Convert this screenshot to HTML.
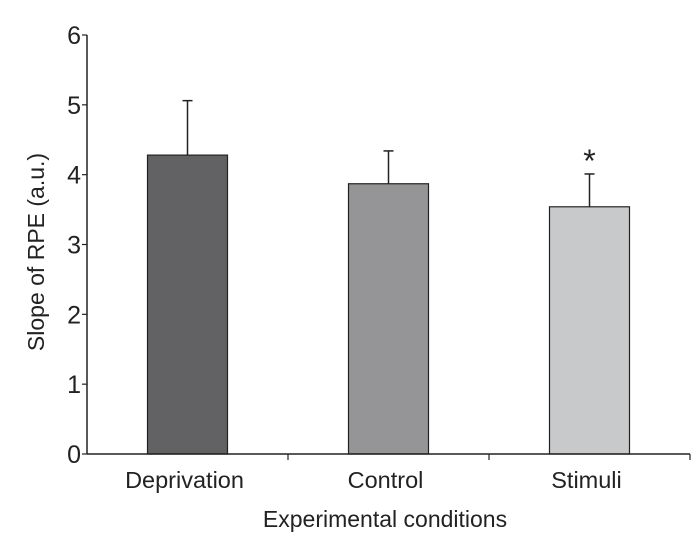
<!DOCTYPE html>
<html><head><meta charset="utf-8"><style>
html,body{margin:0;padding:0;background:#fff}
svg text{font-family:"Liberation Sans",Arial,sans-serif;fill:#222}
</style></head><body>
<svg width="700" height="548" viewBox="0 0 700 548">
<g id="plot"></g>
</svg>
<script>
const categories=["Deprivation","Control","Stimuli"];
const values=[4.28,3.87,3.54];
const errors=[0.78,0.47,0.47];
const colors=["#626264","#959597","#c8c9cb"];
const yTicks=[0,1,2,3,4,5,6];
const significant=[false,false,true];
const X0=87,X1=690,Y0=454,Y1=35,YMAX=6;
const bw=(X1-X0)/categories.length;
const y=v=>Y0-(v/YMAX)*(Y0-Y1);
const xc=i=>X0+bw*(i+0.5);
const g=document.getElementById('plot');
const NS="http://www.w3.org/2000/svg";
function mk(t,a,p){const e=document.createElementNS(NS,t);for(const k in a)e.setAttribute(k,a[k]);(p||g).appendChild(e);return e;}
categories.forEach((c,i)=>{
 const bx=xc(i)-40;
 const bar=mk('rect',{x:bx,y:y(values[i]),width:80,height:Y0-y(values[i]),fill:colors[i],stroke:'#222','stroke-width':1.2});
 
 
 const eb=mk('line',{x1:xc(i),x2:xc(i),y1:y(values[i]),y2:y(values[i]+errors[i]),stroke:'#222','stroke-width':1.5});
 
 
 mk('line',{x1:xc(i)-5,x2:xc(i)+5,y1:y(values[i]+errors[i]),y2:y(values[i]+errors[i]),stroke:'#222','stroke-width':1.5});
 const t=mk('text',{x:xc(i)-3,y:488,'font-size':23.5,'text-anchor':'middle'});t.textContent=c;
 
 
 mk('line',{x1:X0+bw*(i+1),x2:X0+bw*(i+1),y1:Y0,y2:Y0+6,stroke:'#222','stroke-width':1.2});
 if(significant[i]){const s=mk('text',{x:xc(i),y:y(values[i]+errors[i])-2,'font-size':32,'text-anchor':'middle'});s.textContent='*';
  
  }
});
yTicks.forEach(v=>{
 mk('line',{x1:X0-5,x2:X0,y1:y(v),y2:y(v),stroke:'#222','stroke-width':1.2});
 const t=mk('text',{x:X0-6,y:y(v)+9,'font-size':25,'text-anchor':'end'});t.textContent=v;
 
 
});
const ya=mk('line',{x1:X0,x2:X0,y1:Y1,y2:Y0,stroke:'#222','stroke-width':1.5});


const xa=mk('line',{x1:X0,x2:X1,y1:Y0,y2:Y0,stroke:'#222','stroke-width':1.5});


const xt=mk('text',{x:385,y:527,'font-size':23,'text-anchor':'middle'});xt.textContent='Experimental conditions';


const yt=mk('text',{x:0,y:0,'font-size':23,'text-anchor':'middle',transform:'translate(44,252) rotate(-90)'});yt.textContent='Slope of RPE (a.u.)';


</script>
</body></html>
